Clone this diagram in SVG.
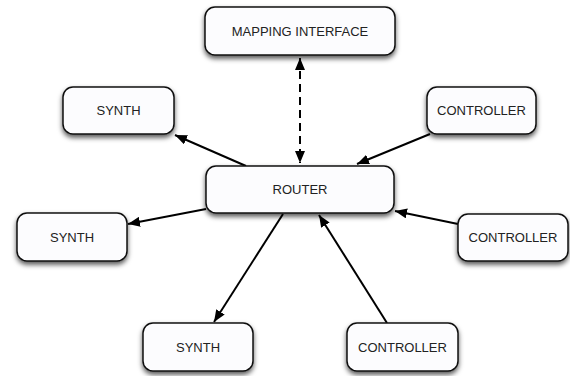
<svg xmlns="http://www.w3.org/2000/svg" width="570" height="376" viewBox="0 0 570 376">
<defs>
<filter id="sh" x="-20%" y="-30%" width="140%" height="170%">
<feDropShadow dx="0" dy="3" stdDeviation="2.5" flood-color="#000" flood-opacity="0.65"/>
</filter>
<marker id="ah" viewBox="0 0 12 10" refX="12" refY="5" markerWidth="12" markerHeight="10" markerUnits="userSpaceOnUse" orient="auto-start-reverse">
<path d="M0,0 L12,5 L0,10 Z" fill="#000"/>
</marker>
</defs>
<style>
.box{fill:#fcfcfe;stroke:#111;stroke-width:1.5;filter:url(#sh)}
.lbl{font-family:"Liberation Sans",Arial,sans-serif;font-size:13px;fill:#222;text-anchor:middle;dominant-baseline:central}
.c{stroke:#000;stroke-width:2;fill:none}
</style>
<rect width="570" height="376" fill="#fff"/>
<g id="connectors">
<line class="c" x1="300" y1="58" x2="300" y2="163" stroke-dasharray="8,5" marker-start="url(#ah)" marker-end="url(#ah)"/>
<line class="c" x1="246" y1="166" x2="175" y2="135" marker-end="url(#ah)"/>
<line class="c" x1="430" y1="134" x2="357" y2="164" marker-end="url(#ah)"/>
<line class="c" x1="206" y1="209" x2="128" y2="224" marker-end="url(#ah)"/>
<line class="c" x1="458" y1="224" x2="395" y2="211" marker-end="url(#ah)"/>
<line class="c" x1="283" y1="214" x2="214" y2="322" marker-end="url(#ah)"/>
<line class="c" x1="387" y1="323" x2="319" y2="215" marker-end="url(#ah)"/>
</g>
<g id="mapping"><rect class="box" x="205" y="7" width="190" height="48" rx="10"/><text class="lbl" x="300" y="31">MAPPING INTERFACE</text></g>
<g id="router"><rect class="box" x="206" y="166" width="188" height="47" rx="10"/><text class="lbl" x="300" y="189.5">ROUTER</text></g>
<g id="synth1"><rect class="box" x="63" y="87" width="111" height="47" rx="10"/><text class="lbl" x="118.5" y="110.5">SYNTH</text></g>
<g id="controller1"><rect class="box" x="427" y="87" width="109" height="47" rx="10"/><text class="lbl" x="481.5" y="110.5">CONTROLLER</text></g>
<g id="synth2"><rect class="box" x="17" y="213" width="110" height="48" rx="10"/><text class="lbl" x="72" y="237">SYNTH</text></g>
<g id="controller2"><rect class="box" x="458" y="214" width="110" height="47" rx="10"/><text class="lbl" x="513" y="237.5">CONTROLLER</text></g>
<g id="synth3"><rect class="box" x="143" y="323" width="110" height="48" rx="10"/><text class="lbl" x="198" y="347">SYNTH</text></g>
<g id="controller3"><rect class="box" x="347" y="323" width="111" height="48" rx="10"/><text class="lbl" x="402.5" y="347">CONTROLLER</text></g>
</svg>
